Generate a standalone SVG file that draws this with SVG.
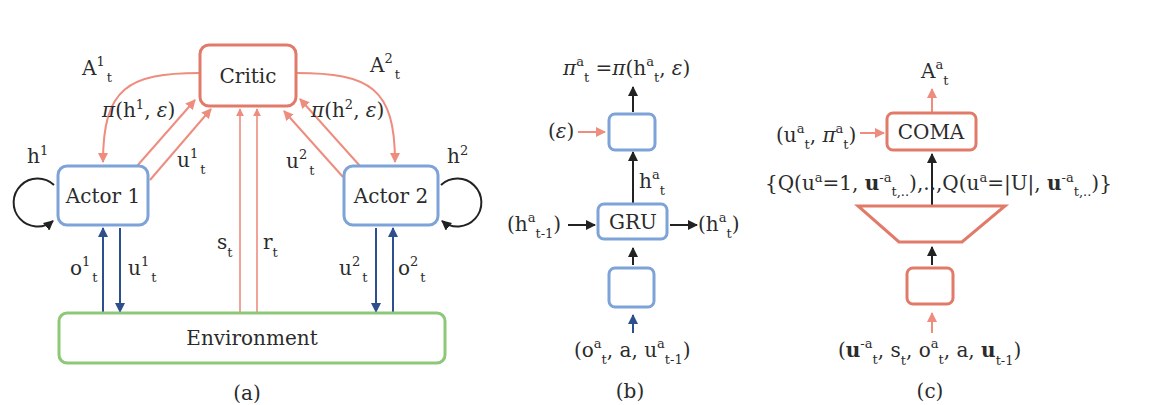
<svg xmlns="http://www.w3.org/2000/svg" width="1155" height="405" viewBox="0 0 1155 405">
<defs>
<style>
.t{font-family:"DejaVu Serif","Liberation Serif",serif;font-size:20px;fill:#2b2b2b}
.n{font-size:20px}
.s{font-size:13px}
.i{font-style:italic}
.b{font-weight:bold}
.red{fill:#fff;stroke:#e27a6a;stroke-width:3}
.blue{fill:#fff;stroke:#7ea3d8;stroke-width:3}
.green{fill:#fff;stroke:#8dc878;stroke-width:3}
.cr{fill:none;stroke:#ee8c7e;stroke-width:2}
.cb{fill:none;stroke:#222;stroke-width:2}
.cd{fill:none;stroke:#2d4f8e;stroke-width:2}
</style>
<marker id="mr" viewBox="0 0 10 10" refX="9" refY="5" markerWidth="5" markerHeight="5" orient="auto"><path d="M0,0 L10,5 L0,10 z" fill="#ee8c7e"/></marker>
<marker id="mb" viewBox="0 0 10 10" refX="9" refY="5" markerWidth="5" markerHeight="5" orient="auto"><path d="M0,0 L10,5 L0,10 z" fill="#222"/></marker>
<marker id="md" viewBox="0 0 10 10" refX="9" refY="5" markerWidth="5" markerHeight="5" orient="auto"><path d="M0,0 L10,5 L0,10 z" fill="#2d4f8e"/></marker>
</defs>
<rect width="1155" height="405" fill="#fff"/>

<g id="connectors">
<path class="cr" d="M200,73 C128,73 103,88 103,162" marker-end="url(#mr)"/>
<line class="cr" x1="137" y1="166" x2="195" y2="100" marker-end="url(#mr)"/>
<line class="cr" x1="150" y1="180" x2="211" y2="109" marker-end="url(#mr)"/>
<line class="cr" x1="240" y1="313" x2="240" y2="109" marker-end="url(#mr)" style="stroke-width:1.6"/>
<line class="cr" x1="257" y1="313" x2="257" y2="109" marker-end="url(#mr)" style="stroke-width:1.6"/>
<path class="cr" d="M296,73 C370,73 395,88 395,162" marker-end="url(#mr)"/>
<line class="cr" x1="360" y1="166" x2="300" y2="99" marker-end="url(#mr)"/>
<line class="cr" x1="343" y1="177" x2="284" y2="111" marker-end="url(#mr)"/>
<path class="cb" d="M54,185 A24,24 0 1 0 53,221" marker-end="url(#mb)"/>
<path class="cb" d="M441,185 A24,24 0 1 1 442,221" marker-end="url(#mb)"/>
<line class="cd" x1="103" y1="313" x2="103" y2="228" marker-end="url(#md)"/>
<line class="cd" x1="120" y1="228" x2="120" y2="312" marker-end="url(#md)"/>
<line class="cd" x1="376" y1="228" x2="376" y2="312" marker-end="url(#md)"/>
<line class="cd" x1="393" y1="313" x2="393" y2="228" marker-end="url(#md)"/>

<line class="cb" x1="633" y1="112" x2="633" y2="87" marker-end="url(#mb)"/>
<line class="cr" x1="578" y1="132" x2="605" y2="132" marker-end="url(#mr)"/>
<line class="cb" x1="633" y1="203" x2="633" y2="152" marker-end="url(#mb)"/>
<line class="cb" x1="568" y1="225" x2="595" y2="225" marker-end="url(#mb)"/>
<line class="cb" x1="670" y1="225" x2="697" y2="225" marker-end="url(#mb)"/>
<line class="cb" x1="633" y1="265" x2="633" y2="248" marker-end="url(#mb)"/>
<line class="cd" x1="633" y1="333" x2="633" y2="315" marker-end="url(#md)"/>

<line class="cr" x1="932" y1="112" x2="932" y2="89" marker-end="url(#mr)"/>
<line class="cr" x1="860" y1="133" x2="884" y2="133" marker-end="url(#mr)"/>
<line class="cb" x1="932" y1="205" x2="932" y2="154" marker-end="url(#mb)"/>
<line class="cb" x1="932" y1="265" x2="932" y2="247" marker-end="url(#mb)"/>
<line class="cr" x1="932" y1="333" x2="932" y2="313" marker-end="url(#mr)"/>
</g>

<g id="critic"><rect class="red" x="200" y="45" width="96" height="61" rx="9"/><text class="t n" x="248" y="83" text-anchor="middle">Critic</text></g>
<g id="actor1"><rect class="blue" x="58" y="166" width="90" height="59" rx="9"/><text class="t n" x="103" y="203" text-anchor="middle">Actor 1</text></g>
<g id="actor2"><rect class="blue" x="344" y="166" width="94" height="59" rx="9"/><text class="t n" x="391" y="203" text-anchor="middle">Actor 2</text></g>
<g id="environment"><rect class="green" x="59" y="313" width="386" height="50" rx="8"/><text class="t n" x="252" y="345" text-anchor="middle">Environment</text></g>

<g id="gru-top"><rect class="blue" x="609" y="114" width="46" height="36" rx="6"/></g>
<g id="gru"><rect class="blue" x="598" y="204" width="69" height="35" rx="6"/><text class="t n" x="633" y="229" text-anchor="middle">GRU</text></g>
<g id="gru-bottom"><rect class="blue" x="609" y="268" width="45" height="39" rx="6"/></g>

<g id="coma"><rect class="red" x="887" y="113" width="89" height="37" rx="6"/><text class="t n" x="931" y="139" text-anchor="middle">COMA</text></g>
<g id="trapezoid"><polygon class="red" points="858,206 1005,206 962,242 899,242"/></g>
<g id="coma-bottom"><rect class="red" x="907" y="268" width="46" height="36" rx="6"/></g>

<g id="labels">
<text class="t" x="82" y="75">A<tspan class="s" dy="-9">1</tspan><tspan class="s" dx="2" dy="16">t</tspan></text>
<text class="t" x="102" y="117"><tspan class="i">π</tspan>(h<tspan class="s" dy="-8">1</tspan><tspan dy="8">, </tspan><tspan class="i">ε</tspan>)</text>
<text class="t" x="177" y="167">u<tspan class="s" dy="-9">1</tspan><tspan class="s" dx="2" dy="16">t</tspan></text>
<text class="t" x="370" y="72">A<tspan class="s" dy="-9">2</tspan><tspan class="s" dx="2" dy="16">t</tspan></text>
<text class="t" x="311" y="117"><tspan class="i">π</tspan>(h<tspan class="s" dy="-8">2</tspan><tspan dy="8">, </tspan><tspan class="i">ε</tspan>)</text>
<text class="t" x="286" y="168">u<tspan class="s" dy="-9">2</tspan><tspan class="s" dx="2" dy="16">t</tspan></text>
<text class="t" x="27" y="163">h<tspan class="s" dy="-8">1</tspan></text>
<text class="t" x="447" y="163">h<tspan class="s" dy="-8">2</tspan></text>
<text class="t" x="217" y="249">s<tspan class="s" dy="8">t</tspan></text>
<text class="t" x="263" y="249">r<tspan class="s" dy="8">t</tspan></text>
<text class="t" x="70" y="275">o<tspan class="s" dy="-9">1</tspan><tspan class="s" dx="2" dy="16">t</tspan></text>
<text class="t" x="128" y="275">u<tspan class="s" dy="-9">1</tspan><tspan class="s" dx="2" dy="16">t</tspan></text>
<text class="t" x="339" y="275">u<tspan class="s" dy="-9">2</tspan><tspan class="s" dx="2" dy="16">t</tspan></text>
<text class="t" x="398" y="275">o<tspan class="s" dy="-9">2</tspan><tspan class="s" dx="2" dy="16">t</tspan></text>
<text class="t n" x="247" y="400" text-anchor="middle">(a)</text>

<text class="t" x="563" y="75"><tspan class="i">π</tspan><tspan class="s" dy="-9">a</tspan><tspan class="s" dy="16">t</tspan><tspan dy="-7"> =</tspan><tspan class="i">π</tspan>(h<tspan class="s" dy="-9">a</tspan><tspan class="s" dy="16">t</tspan><tspan dy="-7">, </tspan><tspan class="i">ε</tspan>)</text>
<text class="t" x="548" y="138">(<tspan class="i">ε</tspan>)</text>
<text class="t" x="639" y="188">h<tspan class="s" dy="-9">a</tspan><tspan class="s" dy="16">t</tspan></text>
<text class="t" x="507" y="231">(h<tspan class="s" dy="-9">a</tspan><tspan class="s" dy="16">t-1</tspan><tspan dy="-7">)</tspan></text>
<text class="t" x="698" y="231">(h<tspan class="s" dy="-9">a</tspan><tspan class="s" dy="16">t</tspan><tspan dy="-7">)</tspan></text>
<text class="t" x="574" y="357">(o<tspan class="s" dy="-9">a</tspan><tspan class="s" dy="16">t</tspan><tspan dy="-7">, a, u</tspan><tspan class="s" dy="-9">a</tspan><tspan class="s" dy="16">t-1</tspan><tspan dy="-7">)</tspan></text>
<text class="t n" x="630" y="398" text-anchor="middle">(b)</text>

<text class="t" x="921" y="78">A<tspan class="s" dy="-9">a</tspan><tspan class="s" dy="16">t</tspan></text>
<text class="t" x="776" y="142">(u<tspan class="s" dy="-9">a</tspan><tspan class="s" dy="16">t</tspan><tspan dy="-7">, </tspan><tspan class="i">π</tspan><tspan class="s" dy="-9">a</tspan><tspan class="s" dy="16">t</tspan><tspan dy="-7">)</tspan></text>
<text class="t" x="765" y="190">{Q(u<tspan class="s" dy="-8">a</tspan><tspan dy="8">=1, </tspan><tspan class="b">u</tspan><tspan class="s" dy="-8">-a</tspan><tspan class="s" dy="14">t,..</tspan><tspan dy="-6">),..,Q(u</tspan><tspan class="s" dy="-8">a</tspan><tspan dy="8">=|U|, </tspan><tspan class="b">u</tspan><tspan class="s" dy="-8">-a</tspan><tspan class="s" dy="14">t,..</tspan><tspan dy="-6">)}</tspan></text>
<text class="t" x="838" y="357">(<tspan class="b">u</tspan><tspan class="s" dy="-9">-a</tspan><tspan class="s" dy="16">t</tspan><tspan dy="-7">, s</tspan><tspan class="s" dy="8">t</tspan><tspan dy="-8">, o</tspan><tspan class="s" dy="-9">a</tspan><tspan class="s" dy="16">t</tspan><tspan dy="-7">, a, </tspan><tspan class="b">u</tspan><tspan class="s" dy="8">t-1</tspan><tspan dy="-8">)</tspan></text>
<text class="t n" x="930" y="398" text-anchor="middle">(c)</text>
</g>
</svg>
